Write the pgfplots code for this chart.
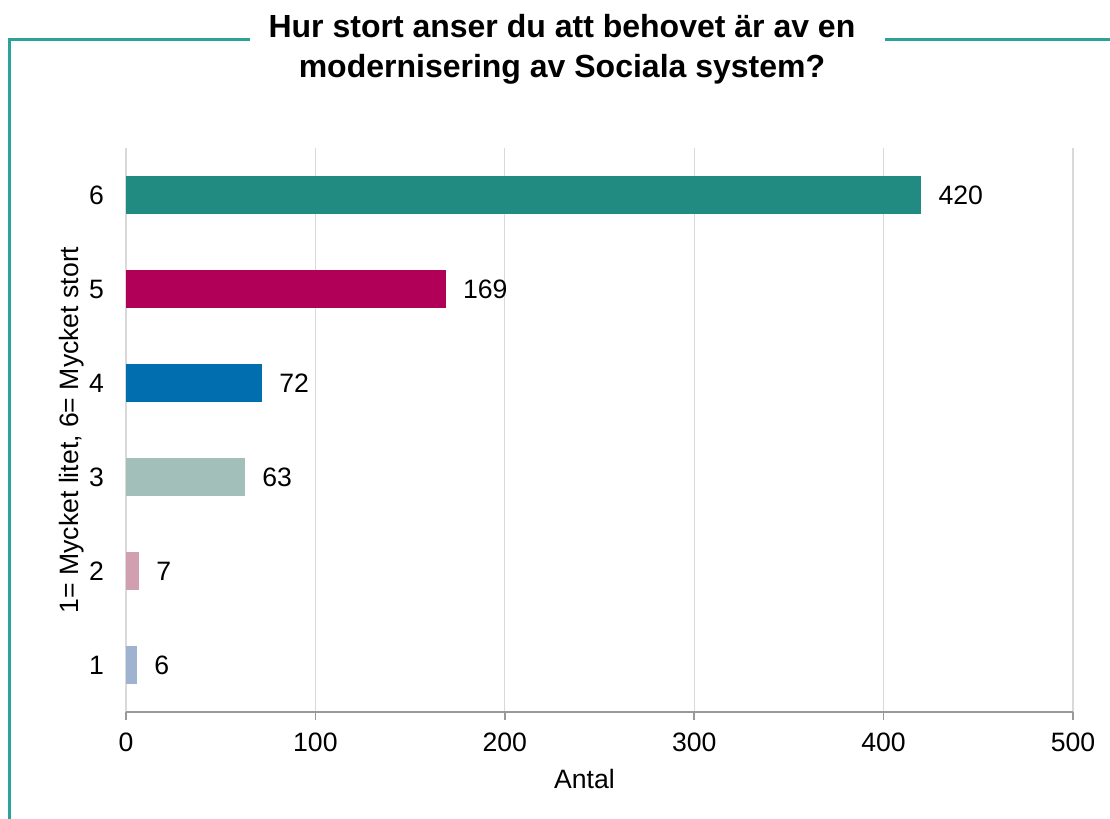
\documentclass[border=0pt]{standalone}
\usepackage{pgfplots}
\pgfplotsset{compat=1.18}
\usepackage{fontspec}
\setmainfont{Liberation Sans}

\definecolor{frameteal}{RGB}{43,163,152}
\definecolor{cSix}{RGB}{33,139,130}
\definecolor{cFive}{RGB}{176,0,88}
\definecolor{cFour}{RGB}{0,110,175}
\definecolor{cThree}{RGB}{163,191,185}
\definecolor{cTwo}{RGB}{209,160,176}
\definecolor{cOne}{RGB}{159,179,209}

\begin{document}
\begin{tikzpicture}
  \useasboundingbox (-63pt,-53.5pt) rectangle (492pt,356pt);
  % frame around the chart area
  \draw[frameteal, line width=1.5pt] (62pt,336pt) -- (-58pt,336pt) -- (-58pt,-60pt);
  \draw[frameteal, line width=1.5pt] (379.5pt,336pt) -- (500pt,336pt);
  \node[font=\fontsize{16}{20}\selectfont\bfseries, align=center] at (218pt,331.5pt)
    {Hur stort anser du att behovet är av en\\modernisering av Sociala system?};

  \begin{axis}[
      at={(0,0)}, anchor=south west,
      xbar, bar width=19pt, bar shift=0pt,
      scale only axis, width=473.5pt, height=282pt,
      xmin=0, xmax=500, ymin=0.5, ymax=6.5,
      xtick={0,100,...,500}, ytick={1,...,6},
      axis lines*=left,
      x axis line style={draw=gray!80, line width=0.8pt},
      y axis line style={draw=none},
      xmajorgrids, grid style={gray!30, line width=0.6pt},
      tick align=outside, major tick length=4pt,
      xtick style={gray!80, line width=0.8pt},
      ytick style={draw=none},
      /pgf/number format/assume math mode=true,
      tick label style={font=\fontsize{13.3}{15}\selectfont},
      xticklabel style={yshift=-3pt},
      yticklabel style={xshift=-3.5pt},
      xlabel={Antal},
      xlabel style={font=\fontsize{13.3}{15}\selectfont, yshift=-2pt, xshift=-7.5pt},
      ylabel={1= Mycket litet, 6= Mycket stort},
      ylabel style={font=\fontsize{13.3}{15}\selectfont, yshift=-4.5pt},
      nodes near coords,
      nodes near coords style={font=\fontsize{13.3}{15}\selectfont, xshift=5pt,
        /pgf/number format/assume math mode=true},
    ]
    \addplot[fill=cSix, draw=none] coordinates {(420,6)};
    \addplot[fill=cFive, draw=none] coordinates {(169,5)};
    \addplot[fill=cFour, draw=none] coordinates {(72,4)};
    \addplot[fill=cThree, draw=none] coordinates {(63,3)};
    \addplot[fill=cTwo, draw=none] coordinates {(7,2)};
    \addplot[fill=cOne, draw=none] coordinates {(6,1)};
  \end{axis}
\end{tikzpicture}
\end{document}
